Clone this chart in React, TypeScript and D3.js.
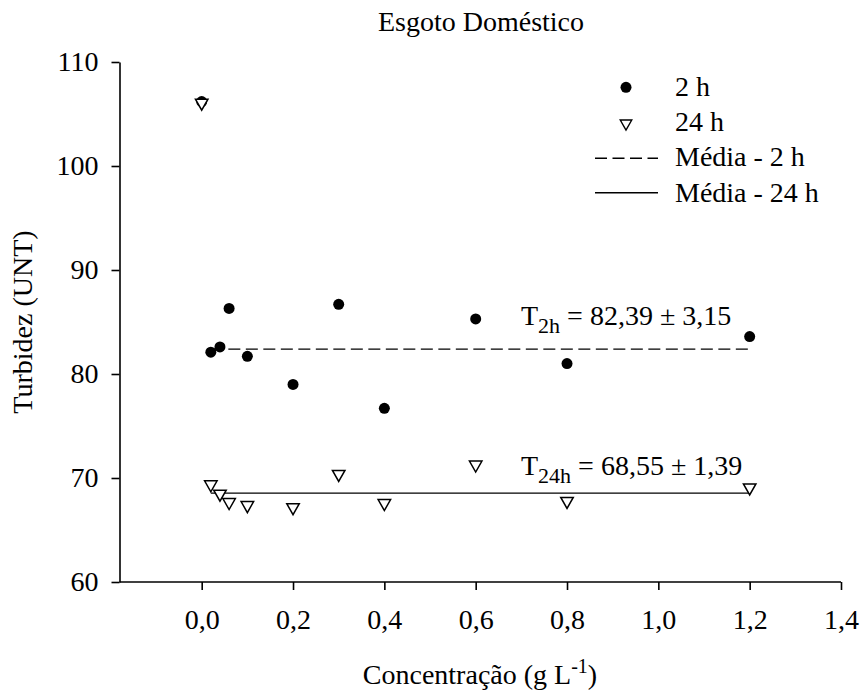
import React, { useEffect, useRef } from "react";
import * as d3 from "d3";

const concentrations = [0, 0.02, 0.04, 0.06, 0.1, 0.2, 0.3, 0.4, 0.6, 0.8, 1.2];
const turbidity2h = [106.2, 82.1, 82.6, 86.3, 81.7, 79.0, 86.7, 76.7, 85.3, 81.0, 83.6];
const turbidity24h = [105.9, 69.2, 68.3, 67.5, 67.2, 67.0, 70.2, 67.4, 71.1, 67.6, 68.9];
const mean2h = 82.39;
const mean24h = 68.55;
const meanRange = [0.02, 1.2];
const xTicks = [0, 0.2, 0.4, 0.6, 0.8, 1.0, 1.2, 1.4];
const yTicks = [60, 70, 80, 90, 100, 110];
const legendLabels = ["2 h", "24 h", "Média - 2 h", "Média - 24 h"];

const FONT = "Liberation Serif";
const FS = 28;
const W = 861;
const H = 692;

export default function App() {
  const ref = useRef<SVGSVGElement>(null);

  useEffect(() => {
    const svg = d3.select(ref.current);
    svg.selectAll("*").remove();

    const x = d3.scaleLinear().domain([-0.18, 1.4]).range([119.5, 841]);
    const y = d3.scaleLinear().domain([60, 110]).range([582, 62]);
    const fmt = (v: number) => d3.format(".1f")(v).replace(".", ",");

    // axes
    const xAxis = svg
      .append("g")
      .attr("transform", `translate(0,${y(60)})`)
      .call(
        d3.axisBottom(x).tickValues(xTicks).tickFormat((d) => fmt(d as number)).tickSize(8).tickPadding(19).tickSizeOuter(0)
      );
    const yAxis = svg
      .append("g")
      .attr("transform", `translate(${x(-0.18)},0)`)
      .call(d3.axisLeft(y).tickValues(yTicks).tickFormat((d) => String(d)).tickSize(8).tickPadding(13).tickSizeOuter(0));
    [xAxis, yAxis].forEach((g) => {
      g.attr("font-family", FONT).attr("font-size", FS);
      g.select(".domain").attr("stroke", "#000").attr("stroke-width", 1.6);
      g.selectAll(".tick line").attr("stroke", "#000").attr("stroke-width", 1.6);
      g.selectAll(".tick text").attr("font-family", FONT).attr("font-size", FS).attr("fill", "#000");
    });
    xAxis.select(".domain").attr("d", `M${x(-0.18)},0H${x(1.4)}`);

    // mean lines
    svg
      .append("line")
      .attr("x1", x(meanRange[0]))
      .attr("x2", x(meanRange[1]))
      .attr("y1", y(mean2h))
      .attr("y2", y(mean2h))
      .attr("stroke", "#000")
      .attr("stroke-width", 1.4)
      .attr("stroke-dasharray", "12,5.5");
    svg
      .append("line")
      .attr("x1", x(meanRange[0]))
      .attr("x2", x(meanRange[1]))
      .attr("y1", y(mean24h))
      .attr("y2", y(mean24h))
      .attr("stroke", "#000")
      .attr("stroke-width", 1.4);

    const tri = (cx: number, cy: number, w: number, h: number) =>
      `M${cx - w / 2},${cy - h / 2}L${cx + w / 2},${cy - h / 2}L${cx},${cy + h / 2}Z`;

    // points 2h
    svg
      .append("g")
      .selectAll("circle")
      .data(concentrations.map((c, i) => [c, turbidity2h[i]]))
      .join("circle")
      .attr("cx", (d) => x(d[0]))
      .attr("cy", (d) => y(d[1]))
      .attr("r", 5.5)
      .attr("fill", "#000");

    // points 24h
    svg
      .append("g")
      .selectAll("path")
      .data(concentrations.map((c, i) => [c, turbidity24h[i]]))
      .join("path")
      .attr("d", (d) => tri(x(d[0]), y(d[1]), 12.5, 11))
      .attr("fill", "#fff")
      .attr("stroke", "#000")
      .attr("stroke-width", 1.5);

    // annotations
    const ann = (yy: number, sub: string, txt: string) => {
      const t = svg
        .append("text")
        .attr("x", 521)
        .attr("y", yy)
        .attr("font-family", FONT)
        .attr("font-size", FS)
        .attr("fill", "#000");
      t.append("tspan").text("T");
      t.append("tspan").attr("font-size", 22).attr("dy", 8).text(sub);
      t.append("tspan").attr("dy", -8).text(txt);
    };
    ann(324.5, "2h", " = 82,39 ± 3,15");
    ann(474.5, "24h", " = 68,55 ± 1,39");

    // legend
    const lg = svg.append("g");
    lg.append("circle").attr("cx", 626).attr("cy", 87.3).attr("r", 5.5).attr("fill", "#000");
    lg.append("path").attr("d", tri(626, 125, 11.5, 10)).attr("fill", "#fff").attr("stroke", "#000").attr("stroke-width", 1.4);
    lg.append("line").attr("x1", 595).attr("x2", 658).attr("y1", 158.3).attr("y2", 158.3).attr("stroke", "#000").attr("stroke-width", 1.4).attr("stroke-dasharray", "12,5.5");
    lg.append("line").attr("x1", 595).attr("x2", 658).attr("y1", 192.7).attr("y2", 192.7).attr("stroke", "#000").attr("stroke-width", 1.4);
    legendLabels.forEach((l, i) => {
      lg.append("text")
        .attr("x", 675)
        .attr("y", 96 + i * 35.2)
        .attr("font-family", FONT)
        .attr("font-size", FS)
        .attr("fill", "#000")
        .text(l);
    });

    // title
    svg
      .append("text")
      .attr("x", 481)
      .attr("y", 30.5)
      .attr("text-anchor", "middle")
      .attr("font-family", FONT)
      .attr("font-size", FS)
      .attr("fill", "#000")
      .text("Esgoto Doméstico");

    // y label
    svg
      .append("text")
      .attr("transform", `translate(32,322) rotate(-90)`)
      .attr("text-anchor", "middle")
      .attr("font-family", FONT)
      .attr("font-size", FS)
      .attr("fill", "#000")
      .text("Turbidez (UNT)");

    // x label
    const xl = svg
      .append("text")
      .attr("x", 480)
      .attr("y", 684)
      .attr("text-anchor", "middle")
      .attr("font-family", FONT)
      .attr("font-size", FS)
      .attr("fill", "#000");
    xl.append("tspan").text("Concentração (g L");
    xl.append("tspan").attr("font-size", 20).attr("dy", -11).text("-1");
    xl.append("tspan").attr("dy", 11).text(")");
  }, []);

  return (
    <svg
      ref={ref}
      width={W}
      height={H}
      style={{ position: "absolute", left: 0, top: 0, background: "#fff" }}
    />
  );
}
